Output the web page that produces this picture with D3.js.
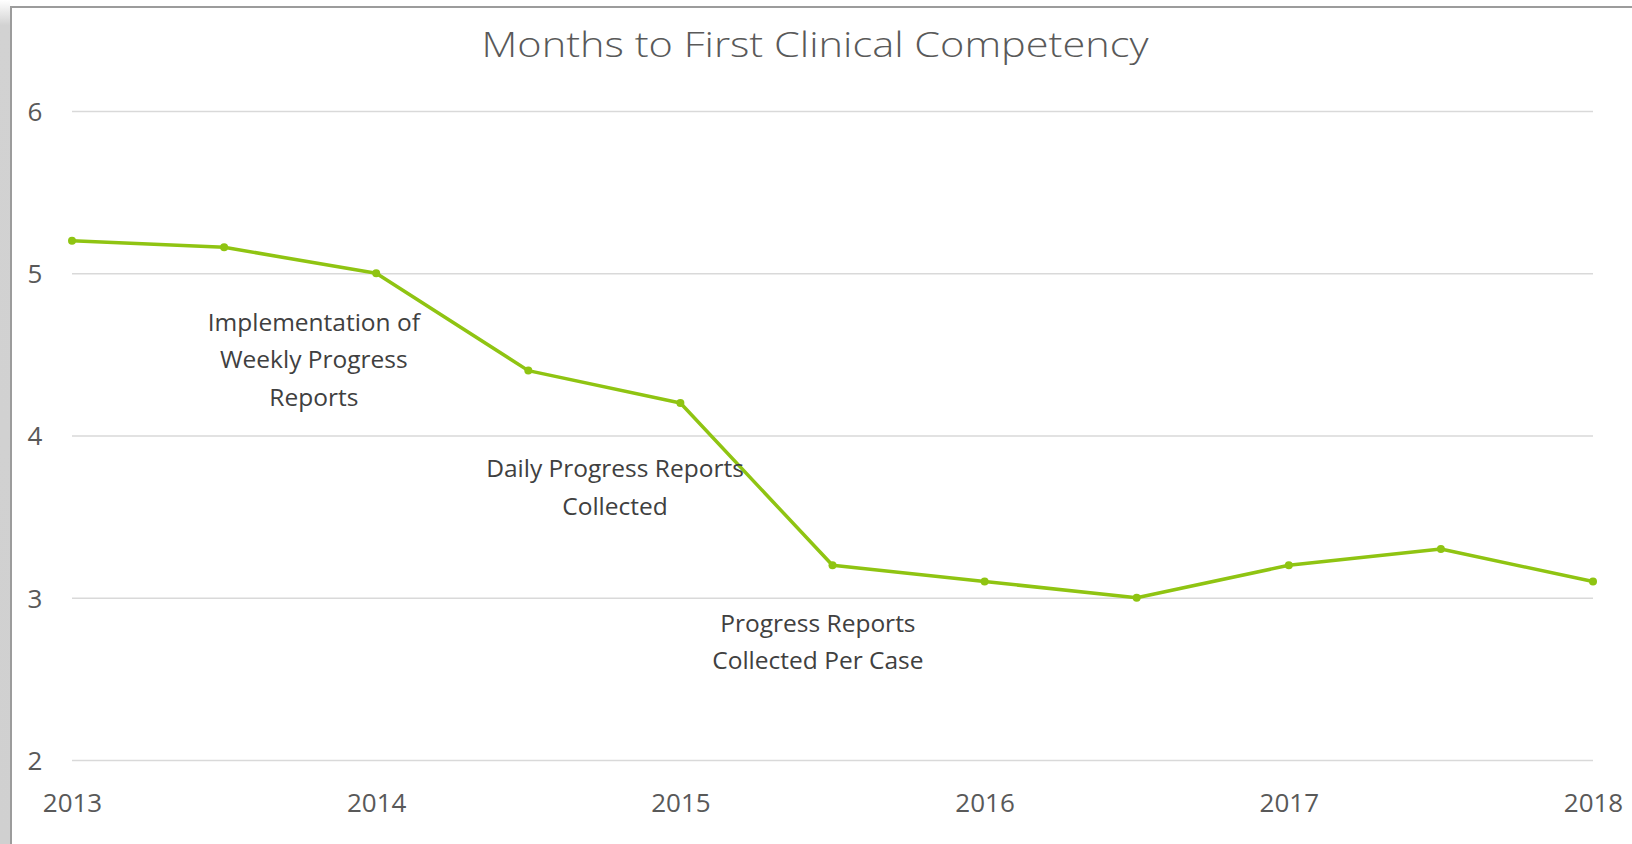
<!DOCTYPE html>
<html lang="en">
<head>
<meta charset="utf-8">
<script src="https://cdn.jsdelivr.net/npm/d3@7"></script>
<style>
  body { margin: 0; background: #fff; }
  svg { display: block; }
</style>
</head>
<body>
<svg width="1632" height="844"></svg>
<script>
// data
var years = [2013, 2013.5, 2014, 2014.5, 2015, 2015.5, 2016, 2016.5, 2017, 2017.5, 2018];
var months = [5.2, 5.16, 5.0, 4.4, 4.2, 3.2, 3.1, 3.0, 3.2, 3.3, 3.1];
var yearTicks = [2013, 2014, 2015, 2016, 2017, 2018];
var valueTicks = [2, 3, 4, 5, 6];
var notes = [
  ["Implementation of", "Weekly Progress", "Reports"],
  ["Daily Progress Reports", "Collected"],
  ["Progress Reports", "Collected Per Case"]
];
// where each note sits, in chart units (year, months)
var noteAt = [[2013.795, 4.47], [2014.785, 3.68], [2015.452, 2.73]];

var svg = d3.select("svg"),
    width = +svg.attr("width"),
    height = +svg.attr("height");

var textColor = "#595959",
    green = "#8fc412";

// frame: grey page edge on the left, border line on top and left
var grad = svg.append("defs").append("linearGradient")
    .attr("id", "edge").attr("x1", 0).attr("y1", 0).attr("x2", 0).attr("y2", 1);
grad.append("stop").attr("offset", "0").attr("stop-color", "#ffffff");
grad.append("stop").attr("offset", "0.03").attr("stop-color", "#d2d2d2");
grad.append("stop").attr("offset", "1").attr("stop-color", "#d0d0d0");

svg.append("rect").attr("x", 0).attr("y", 0).attr("width", 10).attr("height", height)
    .attr("fill", "url(#edge)");
svg.append("line").attr("x1", 11).attr("x2", 11).attr("y1", 6).attr("y2", height)
    .attr("stroke", "#9c9c9c").attr("stroke-width", 2);
svg.append("line").attr("x1", 10).attr("x2", width).attr("y1", 7).attr("y2", 7)
    .attr("stroke", "#9c9c9c").attr("stroke-width", 2);

var x = d3.scaleLinear().domain([2013, 2018]).range([72, 1593]);
var y = d3.scaleLinear().domain([2, 6]).range([760, 111]);

// gridlines
svg.append("g")
  .selectAll("line")
  .data(valueTicks)
  .enter().append("line")
    .attr("x1", x(2013)).attr("x2", x(2018))
    .attr("y1", function(d) { return y(d) + 0.5; })
    .attr("y2", function(d) { return y(d) + 0.5; })
    .attr("stroke", "#d9d9d9").attr("stroke-width", 1.3);

// y axis labels
var yAxis = d3.axisLeft(y).tickValues(valueTicks).tickSize(0).tickPadding(0)
    .tickFormat(d3.format("d"));
svg.append("g")
    .attr("transform", "translate(42,0)")
    .call(yAxis)
    .call(function(g) { g.select(".domain").remove(); })
    .selectAll("text")
      .attr("fill", textColor)
      .attr("font-family", "'Open Sans', sans-serif")
      .attr("font-size", 26)
      .attr("text-anchor", "middle")
      .attr("dx", -7)
      .attr("dy", "0.36em");

// x axis labels
var xAxis = d3.axisBottom(x).tickValues(yearTicks).tickSize(0).tickPadding(0)
    .tickFormat(d3.format("d"));
svg.append("g")
    .attr("transform", "translate(0,803)")
    .call(xAxis)
    .call(function(g) { g.select(".domain").remove(); })
    .selectAll("text")
      .attr("fill", textColor)
      .attr("font-family", "'Open Sans', sans-serif")
      .attr("font-size", 26)
      .attr("dy", "0.36em");

// line + markers
var line = d3.line()
    .x(function(d, i) { return x(years[i]); })
    .y(function(d) { return y(d); });

svg.append("path")
    .datum(months)
    .attr("d", line)
    .attr("fill", "none")
    .attr("stroke", green)
    .attr("stroke-width", 3.5)
    .attr("stroke-linejoin", "round");

svg.append("g")
  .selectAll("circle")
  .data(months)
  .enter().append("circle")
    .attr("cx", function(d, i) { return x(years[i]); })
    .attr("cy", function(d) { return y(d); })
    .attr("r", 4)
    .attr("fill", green);

// annotations
notes.forEach(function(lines, k) {
  var cx = x(noteAt[k][0]), cy = y(noteAt[k][1]);
  var lh = 37.5;
  var t = svg.append("text")
      .attr("fill", "#404040")
      .attr("font-family", "'Open Sans', sans-serif")
      .attr("font-size", 24.5)
      .attr("text-anchor", "middle");
  t.selectAll("tspan")
    .data(lines)
    .enter().append("tspan")
      .attr("x", cx)
      .attr("y", function(d, i) { return cy + (i - (lines.length - 1) / 2) * lh; })
      .attr("dy", "0.36em")
      .text(function(d) { return d; });
});

// title
svg.append("text")
    .attr("x", 815)
    .attr("y", 57)
    .attr("text-anchor", "middle")
    .attr("fill", textColor)
    .attr("font-family", "'Open Sans', sans-serif")
    .attr("font-weight", 300)
    .attr("font-size", 35)
    .attr("textLength", 667)
    .attr("lengthAdjust", "spacingAndGlyphs")
    .text("Months to First Clinical Competency");
</script>
</body>
</html>
